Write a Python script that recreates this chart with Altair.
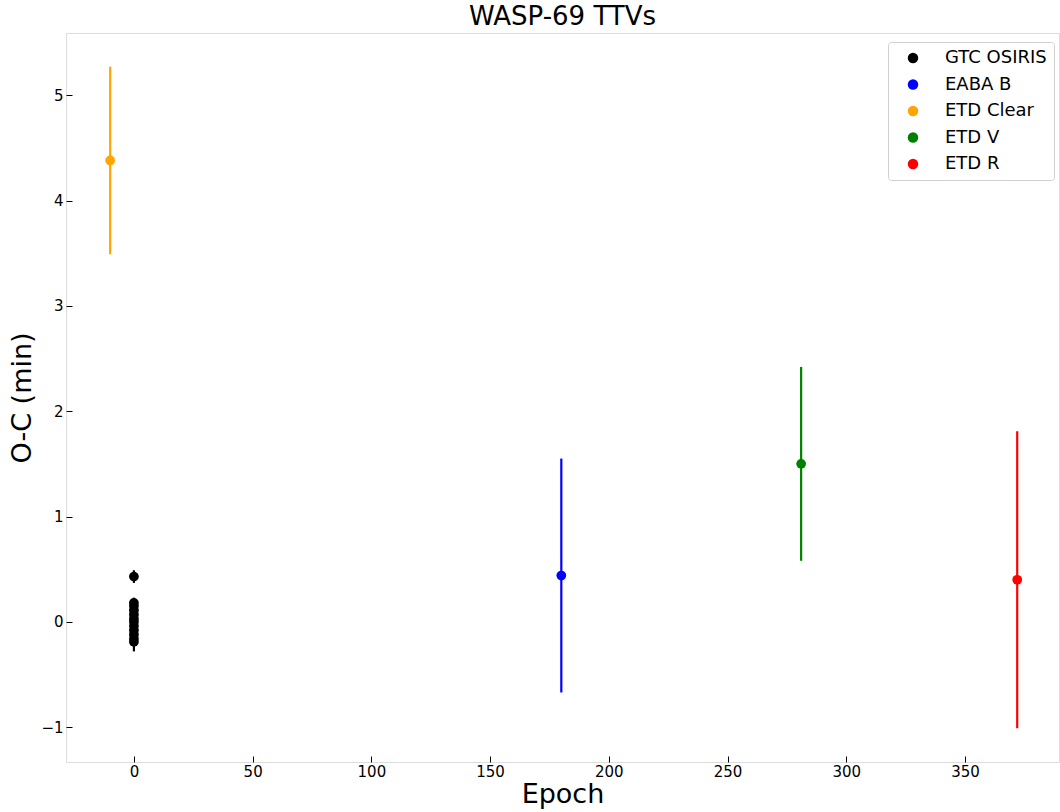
import altair as alt
import pandas as pd

instruments = ["GTC OSIRIS", "EABA B", "ETD Clear", "ETD V", "ETD R"]
colors = ["#000000", "#0000ff", "#ffa500", "#008000", "#ff0000"]

gtc_epoch = [0, 0, 0, 0, 0, 0, 0, 0, 0, 0, 0, 0]
gtc_oc = [0.43, 0.18, 0.15, 0.11, 0.07, 0.03, 0.0, -0.04, -0.08, -0.12, -0.16, -0.19]
gtc_err = [0.06, 0.05, 0.05, 0.05, 0.05, 0.05, 0.05, 0.05, 0.05, 0.05, 0.05, 0.09]

other_inst = ["EABA B", "ETD Clear", "ETD V", "ETD R"]
other_epoch = [180, -10, 281, 372]
other_oc = [0.44, 4.38, 1.50, 0.40]
other_err = [1.11, 0.89, 0.92, 1.41]

rows = []
for e, v, s in zip(gtc_epoch, gtc_oc, gtc_err):
    rows.append({"inst": "GTC OSIRIS", "epoch": e, "oc": v, "lo": v - s, "hi": v + s})
for i, e, v, s in zip(other_inst, other_epoch, other_oc, other_err):
    rows.append({"inst": i, "epoch": e, "oc": v, "lo": v - s, "hi": v + s})
df = pd.DataFrame(rows)

font = "DejaVu Sans"
legend = alt.Legend(title=None, orient="none", legendX=822, legendY=9,
                    labelFontSize=18, labelFont=font, labelColor="black", symbolSize=110,
                    symbolType="circle", rowPadding=8.5, padding=7,
                    strokeColor="#d0d0d0", fillColor="white",
                    cornerRadius=3, symbolOffset=9, labelOffset=23,
                    symbolStrokeWidth=0, symbolOpacity=1)
color = alt.Color("inst:N", scale=alt.Scale(domain=instruments, range=colors), legend=legend)

xs = alt.Scale(domain=[-28.6, 389.6], nice=False, zero=False)
ys = alt.Scale(domain=[-1.33, 5.59], nice=False, zero=False)
xaxis = alt.Axis(title="Epoch", values=[0, 50, 100, 150, 200, 250, 300, 350], domain=False,
                 grid=False, offset=-6, tickSize=6, tickColor="black", labelPadding=2,
                 labelFontSize=15, labelFont=font, labelColor="black", titleFontSize=27,
                 titleFont=font, titleFontWeight="normal", titleColor="black", titlePadding=2)
yaxis = alt.Axis(title="O-C (min)", values=[-1, 0, 1, 2, 3, 4, 5], format="d", domain=False,
                 grid=False, offset=-6, tickSize=6, tickColor="black", labelPadding=3,
                 labelFontSize=15, labelFont=font, labelColor="black", titleFontSize=27,
                 titleFont=font, titleFontWeight="normal", titleColor="black", titlePadding=4,
                 labelFlush=False)

base = alt.Chart(df)
err = base.mark_rule(strokeWidth=2.2).encode(
    x=alt.X("epoch:Q", scale=xs, axis=xaxis),
    y=alt.Y("lo:Q", scale=ys, axis=yaxis),
    y2="hi:Q",
    color=color,
)
pts = base.mark_circle(size=95, opacity=1).encode(
    x=alt.X("epoch:Q", scale=xs),
    y=alt.Y("oc:Q", scale=ys),
    color=color,
)

chart = (err + pts).properties(
    width=993, height=729,
    title=alt.TitleParams("WASP-69 TTVs", fontSize=26, font=font, fontWeight="normal",
                          color="black", anchor="middle", offset=3),
    autosize="none",
    padding={"left": 66, "top": 33, "right": 1, "bottom": 50},
).configure_view(stroke="#b0b0b0", strokeWidth=1).configure(background="white")

chart.save("out.html", embed_options={"renderer": "svg", "actions": False})
